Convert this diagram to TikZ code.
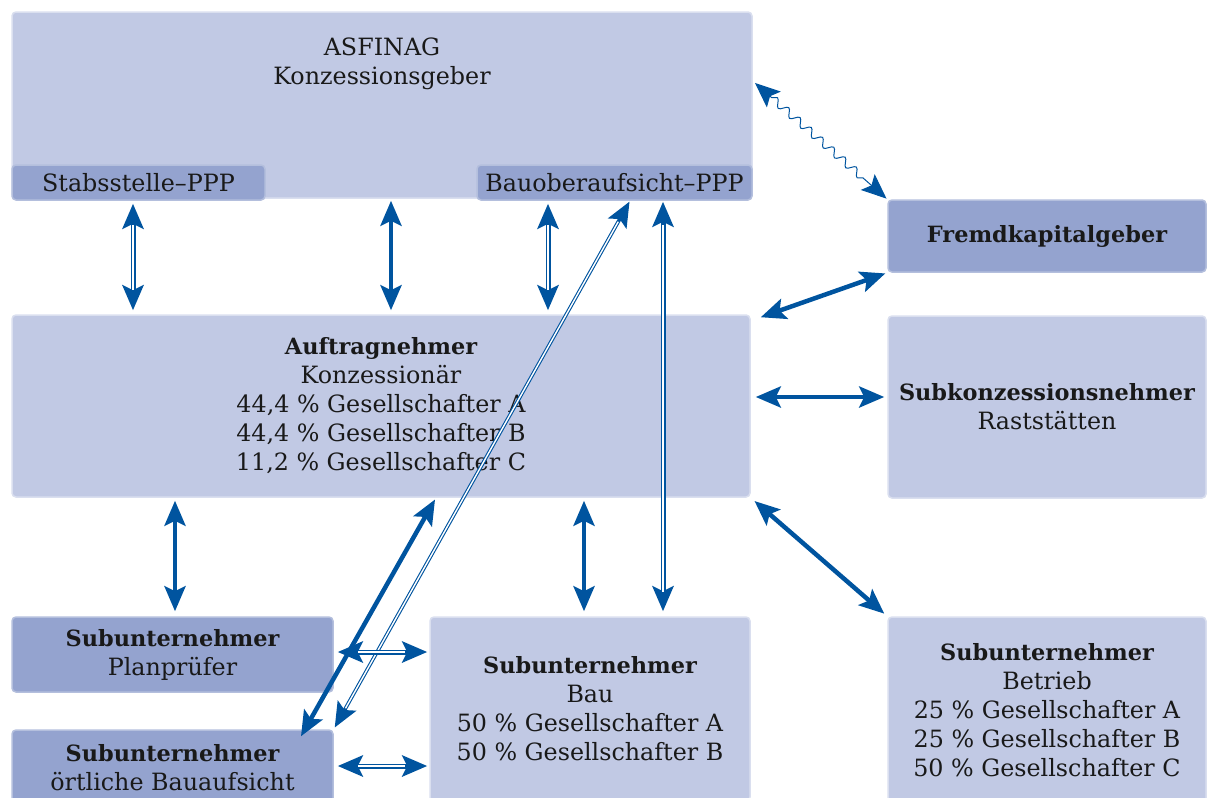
\documentclass[tikz,border=0pt]{standalone}
\usepackage{fontspec}
\setmainfont{DejaVu Serif}
\usetikzlibrary{arrows.meta,decorations.pathmorphing,calc}
\definecolor{boxlight}{RGB}{193,201,228}
\definecolor{boxdark}{RGB}{148,163,207}
\definecolor{arrowblue}{RGB}{0,84,159}
\newcommand\hdline[1]{{\fontsize{22.4}{29}\selectfont\bfseries #1}}
\tikzset{
  lightbox/.style={fill=boxlight, draw=boxlight!60!white, line width=1.5pt, rounded corners=4pt, inner sep=0pt, align=center, text=black!90,
    font=\fontsize{23.8}{29}\selectfont},
  darkbox/.style={lightbox, fill=boxdark, draw=boxdark!70!white},
  txt/.style={align=center, inner sep=0pt, text=black!90, font=\fontsize{23.8}{29}\selectfont},
  tips2/.style={arrows={Stealth[length=25pt,width=21pt,inset=5pt]-Stealth[length=25pt,width=21pt,inset=5pt]}},
  thickarrow/.style={draw=arrowblue, line width=4.5pt, tips2},
  dblarrow/.style={draw=arrowblue, line width=5pt, tips2,
    postaction={draw=white, line width=1.8pt, arrows=-, shorten <=24pt, shorten >=24pt}},
  thindbl/.style={draw=arrowblue, line width=3.6pt, tips2,
    postaction={draw=white, line width=1.4pt, arrows=-, shorten <=24pt, shorten >=24pt}},
  wavy/.style={draw=arrowblue, line width=1pt, tips2,
    decorate, decoration={snake, amplitude=3.8pt, segment length=15pt, pre length=25pt, post length=25pt}},
}
\begin{document}
\begin{tikzpicture}[x=1pt,y=-1pt]
\useasboundingbox (0,0) rectangle (1211,798);
% boxes
\node[lightbox, minimum width=740pt, minimum height=186pt] (asf) at (382,105) {};
\node[txt] (asft) at (382,64) {ASFINAG\\Konzessionsgeber};
\node[darkbox, minimum width=253pt, minimum height=35pt] (stab) at (138.5,182.5) {Stabsstelle–PPP};
\node[darkbox, minimum width=275pt, minimum height=35pt] (bauob) at (614.5,182.5) {Bauoberaufsicht–PPP};
\node[darkbox, minimum width=318pt, minimum height=72pt] (fremd) at (1047,236) {\hdline{Fremdkapitalgeber}};
\node[lightbox, minimum width=738pt, minimum height=182pt] (auf) at (381,406)
  {\hdline{Auftragnehmer}\\Konzessionär\\44,4 \% Gesellschafter A\\44,4 \% Gesellschafter B\\11,2 \% Gesellschafter C};
\node[lightbox, minimum width=318pt, minimum height=182pt] (subk) at (1047,407)
  {\hdline{Subkonzessionsnehmer}\\Raststätten};
\node[darkbox, minimum width=321pt, minimum height=75pt] (plan) at (172.5,654.5)
  {\hdline{Subunternehmer}\\Planprüfer};
\node[darkbox, minimum width=321pt, minimum height=75pt] (oert) at (172.5,767.5)
  {\hdline{Subunternehmer}\\örtliche Bauaufsicht};
\node[lightbox, minimum width=320pt, minimum height=184pt] (bau) at (590,709)
  {\hdline{Subunternehmer}\\Bau\\50 \% Gesellschafter A\\50 \% Gesellschafter B};
\node[lightbox, minimum width=318pt, minimum height=186pt] (betr) at (1047,710)
  {\hdline{Subunternehmer}\\Betrieb\\25 \% Gesellschafter A\\25 \% Gesellschafter B\\50 \% Gesellschafter C};
% anchor points
\coordinate (c1) at ([xshift=-5.5pt]stab.south);
\coordinate (c2) at ([xshift=9pt]asf.south);
\coordinate (c3) at ([xshift=-66.5pt]bauob.south);
\coordinate (c4) at ([xshift=15.5pt]bauob.south);
\coordinate (c5) at ([xshift=48.5pt]bauob.south);
\coordinate (c6) at ([xshift=55pt]auf.south);
\coordinate (c6e) at ([xshift=128.5pt,yshift=-7pt]oert.north);
\coordinate (c7) at ([yshift=2.5pt]plan.east);
\coordinate (c8) at ([yshift=1.5pt]oert.east);
\coordinate (c9) at ([xshift=-206pt]auf.south);
\coordinate (c10) at ([xshift=203pt]auf.south);
\coordinate (c12) at ([yshift=9pt]auf.east);
\coordinate (c13) at ([xshift=10pt,yshift=-3pt]auf.north east);
\coordinate (c14) at ([yshift=24pt]asf.east);
% connectors
\draw[dblarrow, shorten <=3pt, shorten >=4pt] (c1) -- (c1 |- auf.north);
\draw[thickarrow, shorten <=2pt, shorten >=4pt] (c2) -- (c2 |- auf.north);
\draw[dblarrow, shorten <=3pt, shorten >=4pt] (c3) -- (c3 |- auf.north);
\draw[dblarrow, shorten <=1pt, shorten >=5pt] (c5) -- (c5 |- bau.north);
\draw[thindbl, shorten <=1pt, shorten >=2pt] (c4) -- (oert.north east);
\draw[thickarrow, shorten <=2pt] (c6) -- (c6e);
\draw[dblarrow, shorten <=4pt, shorten >=2pt] (c7) -- (c7 -| bau.west);
\draw[dblarrow, shorten <=4pt, shorten >=2pt] (c8) -- (c8 -| bau.west);
\draw[thickarrow, shorten <=3pt, shorten >=5pt] (c9) -- (c9 |- plan.north);
\draw[thickarrow, shorten <=3pt, shorten >=5pt] (c10) -- (c10 |- bau.north);
\draw[thickarrow, shorten <=5pt, shorten >=4pt] (auf.south east) -- (betr.north west);
\draw[thickarrow, shorten <=5pt, shorten >=3pt] (c12) -- (c12 -| subk.west);
\draw[thickarrow, shorten >=2pt] (c13) -- (fremd.south west);
\draw[wavy, shorten <=3pt, shorten >=1pt] (c14) -- (fremd.north west);
\end{tikzpicture}
\end{document}
